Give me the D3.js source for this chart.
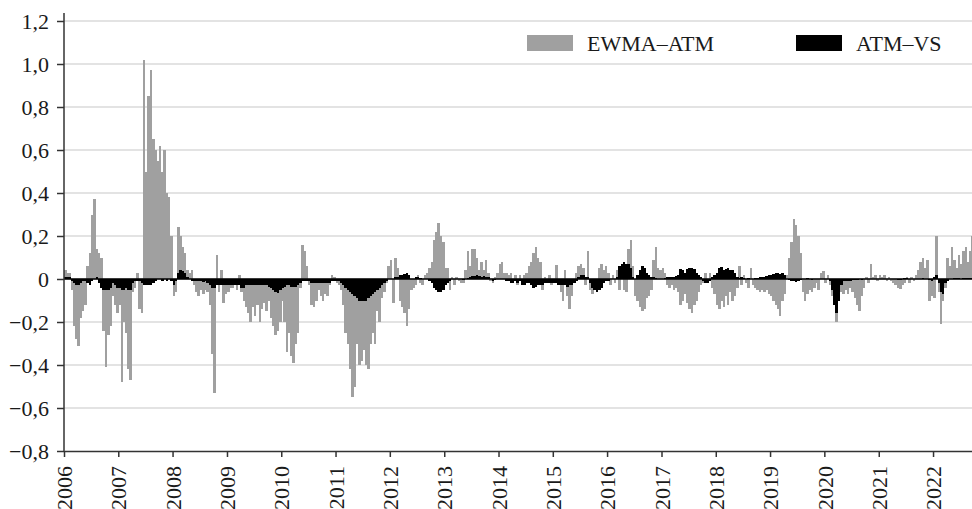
<!DOCTYPE html>
<html>
<head>
<meta charset="utf-8">
<title>EWMA–ATM and ATM–VS</title>
<script src="https://d3js.org/d3.v7.min.js"></script>
<style>
  html, body { margin: 0; padding: 0; background: #fff; }
  svg text { font-family: "Liberation Serif", "DejaVu Serif", serif; font-size: 22px; fill: #1a1a1a; }
  .grid line { stroke: #e3e3e3; stroke-width: 1.8px; }
  .axis path, .axis line { stroke: #333; stroke-width: 1.5px; }
</style>
</head>
<body>
<div id="chart"></div>
<script>
// one value every half month (1st and 16th), one line per year
const years = [2006, 2007, 2008, 2009, 2010, 2011, 2012, 2013, 2014,
               2015, 2016, 2017, 2018, 2019, 2020, 2021, 2022];

const ewmaAtm = [
  0.04, 0.03, 0.03, -0.05, -0.22, -0.28, -0.31, -0.18, -0.15, -0.12, 0.06, 0.12, 0.30, 0.37, 0.14, 0.12, 0.10, -0.24, -0.41, -0.26, -0.22, -0.08, -0.12, -0.16,
  -0.12, -0.48, -0.20, -0.25, -0.42, -0.47, -0.06, -0.04, 0.03, -0.14, -0.16, 1.02, 0.50, 0.85, 0.97, 0.65, 0.60, 0.55, 0.62, 0.50, 0.60, 0.40, 0.38, 0.20,
  -0.08, -0.06, 0.24, 0.20, 0.15, 0.12, 0.04, 0.03, 0.04, -0.03, -0.06, -0.08, -0.05, -0.07, -0.05, -0.06, -0.12, -0.35, -0.53, 0.11, -0.06, 0.04, -0.11, -0.07,
  -0.06, -0.04, -0.04, -0.03, -0.05, 0.02, -0.06, -0.10, -0.13, -0.16, -0.20, -0.13, -0.17, -0.12, -0.20, -0.14, -0.11, -0.15, -0.10, -0.18, -0.22, -0.26, -0.24, -0.20,
  -0.10, -0.20, -0.34, -0.25, -0.36, -0.39, -0.30, -0.25, -0.04, 0.16, 0.13, 0.06, -0.03, -0.12, -0.13, -0.10, -0.05, -0.08, -0.10, -0.07, -0.08, -0.03, 0.02, 0.01,
  -0.02, -0.03, -0.05, -0.12, -0.25, -0.30, -0.42, -0.55, -0.50, -0.30, -0.40, -0.38, -0.33, -0.40, -0.42, -0.30, -0.25, -0.30, -0.15, -0.20, -0.09, -0.06, -0.02, 0.06,
  0.09, -0.11, 0.10, 0.05, -0.10, -0.13, -0.16, -0.22, -0.14, -0.05, -0.04, -0.03, 0.02, -0.02, -0.03, 0.02, 0.03, 0.05, 0.08, 0.18, 0.22, 0.26, 0.20, 0.17,
  0.05, 0.05, -0.05, 0.01, -0.03, 0.01, -0.01, -0.02, -0.02, 0.04, 0.13, 0.06, 0.14, 0.14, 0.10, 0.04, 0.08, 0.04, 0.09, 0.03, -0.01, -0.02, 0.01, 0.03,
  0.07, 0.08, 0.03, 0.03, 0.02, 0.03, -0.02, 0.02, -0.03, 0.02, -0.03, 0.02, 0.03, 0.06, 0.08, 0.12, 0.15, 0.10, 0.08, -0.05, 0.01, -0.02, 0.02, -0.03,
  -0.02, 0.065, -0.03, -0.06, -0.10, 0.04, -0.08, -0.14, -0.08, -0.02, 0.03, 0.06, 0.07, 0.05, -0.03, 0.13, -0.05, -0.07, -0.04, -0.06, 0.05, 0.07, 0.04, 0.06,
  0.03, -0.03, 0.02, -0.02, 0.04, -0.05, 0.06, -0.05, -0.06, 0.14, 0.18, 0.06, -0.08, -0.10, -0.13, -0.15, -0.14, -0.09, -0.08, -0.05, 0.09, 0.15, 0.05, 0.04,
  0.05, 0.03, -0.03, -0.04, -0.03, -0.05, -0.04, -0.06, -0.12, -0.10, -0.07, -0.11, -0.14, -0.16, -0.12, -0.10, -0.06, -0.03, -0.02, 0.03, -0.02, 0.03, -0.04, -0.07,
  -0.12, -0.14, -0.10, -0.13, -0.08, -0.12, -0.06, -0.10, -0.08, -0.04, 0.06, -0.03, 0.02, -0.02, -0.04, 0.05, -0.03, -0.04, -0.05, -0.06, -0.05, -0.06, -0.05, -0.07,
  -0.08, -0.10, -0.12, -0.14, -0.17, -0.10, -0.07, 0.02, 0.10, 0.17, 0.28, 0.25, 0.20, 0.12, -0.06, -0.10, -0.07, -0.05, -0.06, -0.04, -0.02, -0.05, 0.03, 0.035,
  -0.02, 0.02, -0.03, -0.08, -0.12, -0.20, -0.08, -0.06, -0.07, -0.05, -0.07, -0.04, -0.06, -0.09, -0.12, -0.15, -0.08, -0.04, 0.01, -0.02, 0.07, 0.01, 0.02, -0.01,
  0.02, 0.01, 0.02, -0.01, 0.01, -0.01, -0.02, -0.03, -0.04, -0.045, -0.03, -0.02, 0.01, -0.02, 0.01, -0.01, 0.02, 0.04, 0.08, 0.10, 0.05, 0.09, -0.10, -0.08,
  -0.09, 0.20, -0.06, -0.21, -0.10, -0.04, 0.10, 0.06, 0.15, 0.09, 0.05, 0.11, 0.07, 0.13, 0.15, 0.08, 0.13, 0.20
];

const atmVs = [
  0.01, 0.01, 0.01, -0.01, -0.02, -0.03, -0.03, -0.02, -0.01, -0.01, -0.02, -0.03, -0.01, 0, 0.01, -0.02, -0.04, -0.05, -0.05, -0.05, -0.04, -0.02, -0.03, -0.04,
  -0.04, -0.05, -0.05, -0.04, -0.05, -0.05, -0.02, -0.01, -0.01, -0.01, -0.02, -0.03, -0.03, -0.03, -0.03, -0.02, -0.01, 0, 0, -0.01, 0, -0.01, 0, -0.01,
  -0.03, -0.01, 0.03, 0.04, 0.035, 0.03, 0.01, 0, -0.01, -0.01, -0.01, -0.01, -0.01, -0.015, -0.01, -0.02, -0.03, -0.04, -0.04, -0.03, -0.03, -0.03, -0.03, -0.03,
  -0.03, -0.03, -0.03, -0.03, -0.03, -0.03, -0.04, -0.04, -0.03, -0.03, -0.03, -0.03, -0.03, -0.03, -0.03, -0.03, -0.03, -0.03, -0.035, -0.04, -0.05, -0.06, -0.065, -0.05,
  -0.04, -0.035, -0.03, -0.03, -0.035, -0.035, -0.035, -0.03, -0.02, -0.01, -0.01, -0.01, -0.01, -0.02, -0.02, -0.02, -0.02, -0.02, -0.02, -0.02, -0.02, -0.02, -0.01, -0.01,
  -0.01, -0.01, -0.02, -0.03, -0.04, -0.05, -0.06, -0.07, -0.08, -0.09, -0.10, -0.10, -0.10, -0.10, -0.09, -0.08, -0.07, -0.06, -0.05, -0.04, -0.03, -0.02, -0.01, 0,
  0, 0, 0.01, 0.01, 0.02, 0.02, 0.025, 0.03, 0.02, 0, 0, 0.01, 0.01, 0.005, 0, 0, 0, -0.01, -0.02, -0.04, -0.05, -0.06, -0.06, -0.05,
  -0.03, -0.02, -0.01, 0, 0, 0, 0, 0, -0.005, 0, 0.005, 0.01, 0.015, 0.015, 0.02, 0.015, 0.01, 0.015, 0.01, 0.01, 0, -0.01, -0.005, 0,
  0, 0, 0, -0.01, -0.01, -0.02, -0.02, -0.01, -0.02, -0.01, -0.03, -0.03, -0.02, -0.02, -0.03, -0.04, -0.035, -0.03, -0.03, -0.03, -0.02, -0.02, -0.02, -0.02,
  -0.02, -0.02, -0.03, -0.03, -0.03, -0.03, -0.035, -0.03, -0.03, -0.02, -0.01, 0.01, 0.02, 0.02, 0.01, 0.01, -0.02, -0.04, -0.05, -0.06, -0.05, -0.04, -0.02, -0.01,
  -0.01, 0, 0, 0, 0.01, 0.06, 0.07, 0.08, 0.07, 0.07, 0.05, 0.01, 0, 0.02, 0.04, 0.06, 0.05, 0.03, 0.02, 0.01, 0.01, 0.005, 0, 0,
  0, 0.005, 0.01, 0.01, 0.01, 0.01, 0.015, 0.02, 0.045, 0.04, 0.03, 0.045, 0.05, 0.05, 0.045, 0.03, 0.02, 0.01, -0.01, -0.02, -0.02, -0.01, 0.01, 0.02,
  0.03, 0.05, 0.055, 0.04, 0.045, 0.05, 0.04, 0.04, 0.03, 0.01, 0.005, 0.01, 0.005, 0, 0.005, 0, 0, 0.005, 0.005, 0.01, 0.01, 0.01, 0.015, 0.02,
  0.02, 0.025, 0.03, 0.03, 0.025, 0.03, 0.02, 0, -0.005, -0.01, -0.01, -0.015, -0.01, -0.005, 0, 0, 0.005, 0, -0.005, 0, 0, 0, 0, 0,
  0, 0, -0.01, -0.05, -0.12, -0.16, -0.10, -0.03, -0.01, -0.01, -0.01, -0.01, -0.005, -0.005, -0.005, 0, -0.005, 0, 0, 0, 0, 0, 0, 0,
  0, 0, 0, 0, 0, 0, 0, 0, -0.005, -0.005, 0, 0.005, 0.005, 0, 0, 0, 0, 0, 0, 0.005, 0, 0, -0.005, -0.01,
  0.01, 0.02, -0.02, -0.06, -0.07, -0.02, -0.01, 0, 0, 0.005, 0.005, 0.005, 0, 0.005, 0.005, 0.005, 0.005, 0.005
];

const yTicks = [-0.8, -0.6, -0.4, -0.2, 0, 0.2, 0.4, 0.6, 0.8, 1.0, 1.2];
const seriesNames = ["EWMA–ATM", "ATM–VS"];
const seriesColors = ["#a0a0a0", "#000000"];

const width = 972, height = 509;
const mLeft = 64, mRight = 972, mTop = 21, mBottom = 451;

const svg = d3.select("#chart").append("svg")
  .attr("width", width)
  .attr("height", height);

// half-month slots: 1st and 16th of every month
const dates = ewmaAtm.map((v, i) =>
  new Date(years[0] + Math.floor(i / 24), Math.floor((i % 24) / 2), (i % 2) ? 16 : 1));

const x = d3.scaleTime()
  .domain([new Date(2006, 0, 1), new Date(2022, 8, 20)])
  .range([mLeft, mRight]);

const y = d3.scaleLinear()
  .domain([-0.8, 1.2])
  .range([mBottom, mTop]);

// grid lines
svg.append("g").attr("class", "grid")
  .selectAll("line")
  .data(yTicks.filter(d => d > -0.8))
  .join("line")
  .attr("x1", mLeft).attr("x2", mRight)
  .attr("y1", d => y(d)).attr("y2", d => y(d));

// bars
function drawBars(values, color) {
  svg.append("g")
    .attr("fill", color)
    .attr("shape-rendering", "crispEdges")
    .selectAll("rect")
    .data(values)
    .join("rect")
    .attr("x", (d, i) => x(dates[i]))
    .attr("width", (d, i) => {
      const next = i + 1 < dates.length ? x(dates[i + 1]) : x(dates[i]) + 2.26;
      return next - x(dates[i]) + 0.3;
    })
    .attr("y", d => y(Math.max(0, d)))
    .attr("height", d => Math.abs(y(d) - y(0)));
}
drawBars(ewmaAtm, seriesColors[0]);
drawBars(atmVs, seriesColors[1]);

// zero line
svg.append("line")
  .attr("x1", mLeft).attr("x2", mRight)
  .attr("y1", y(0)).attr("y2", y(0))
  .attr("stroke", "#000")
  .attr("stroke-width", 1.5);

// y axis
const fmt = d => d === 0 ? "0" : d3.format(".1f")(d).replace(".", ",").replace("-", "–");
svg.append("g")
  .attr("class", "axis")
  .attr("transform", `translate(${mLeft},0)`)
  .call(d3.axisLeft(y).tickValues(yTicks).tickFormat(fmt).tickSize(7).tickSizeOuter(0).tickPadding(8))
  .call(g => g.select(".domain").attr("d", `M0,${mTop - 8}V${mBottom}`))
  .call(g => g.selectAll("text").attr("fill", "#1a1a1a"));

// x axis
svg.append("g")
  .attr("class", "axis")
  .attr("transform", `translate(0,${mBottom})`)
  .call(d3.axisBottom(x).ticks(d3.timeYear.every(1)).tickFormat(d3.timeFormat("%Y")).tickSize(6).tickSizeOuter(0))
  .call(g => g.selectAll("text")
    .attr("fill", "#1a1a1a")
    .attr("text-anchor", "end")
    .attr("transform", "rotate(-90)")
    .attr("x", -15)
    .attr("y", 0)
    .attr("dy", "0.35em"));

// legend
const legendX = [527, 796];
seriesNames.forEach((name, i) => {
  svg.append("rect")
    .attr("x", legendX[i]).attr("y", 35)
    .attr("width", 46).attr("height", 16)
    .attr("fill", seriesColors[i]);
  svg.append("text")
    .attr("x", legendX[i] + 60).attr("y", 51)
    .text(name);
});
</script>
</body>
</html>
